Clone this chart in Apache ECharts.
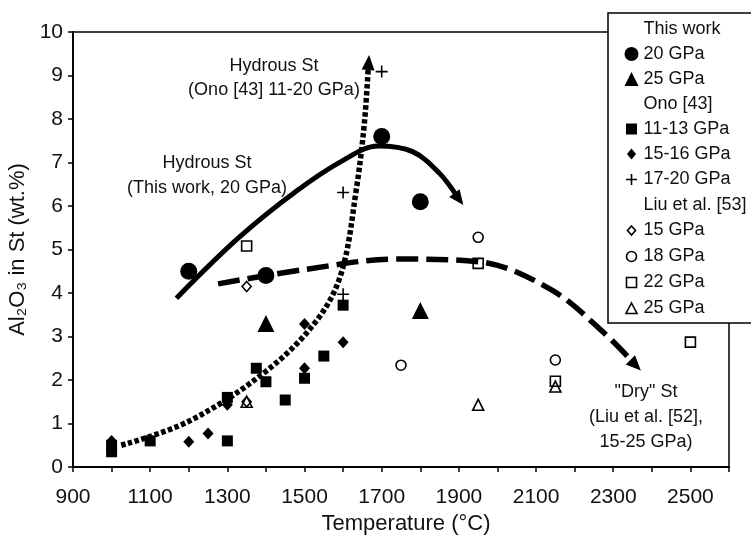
<!DOCTYPE html>
<html>
<head>
<meta charset="utf-8">
<title>Al2O3 in stishovite vs temperature</title>
<script src="https://cdn.jsdelivr.net/npm/echarts@6/dist/echarts.min.js"></script>
<style>
  html, body { margin: 0; padding: 0; background: #fff; }
  #chart { width: 751px; height: 536px; }
</style>
</head>
<body>
<div id="chart"></div>
<script>
// x tick labels (ticks every 100, labels every 200)
var xTickLabels = [900, 1100, 1300, 1500, 1700, 1900, 2100, 2300, 2500];

// This work
var tw20T = [1200, 1400, 1700, 1800];
var tw20A = [4.5, 4.4, 7.6, 6.1];
var tw25T = [1400, 1800];
var tw25A = [3.3, 3.6];

// Ono [43]
var ono1113T = [1000, 1000, 1100, 1300, 1300, 1375, 1400, 1450, 1500, 1550, 1600];
var ono1113A = [0.35, 0.5, 0.6, 0.6, 1.6, 2.27, 1.96, 1.54, 2.04, 2.55, 3.72];
var ono1516T = [1000, 1200, 1250, 1300, 1500, 1500, 1600];
var ono1516A = [0.6, 0.58, 0.77, 1.43, 3.29, 2.27, 2.87];
var ono1720T = [1600, 1600, 1700];
var ono1720A = [3.97, 6.31, 9.09];

// Liu et al. [53]
var liu15T = [1350, 1350];
var liu15A = [4.15, 1.5];
var liu18T = [1750, 1950, 2150];
var liu18A = [2.34, 5.28, 2.46];
var liu22T = [1350, 1950, 2150, 2500];
var liu22A = [5.08, 4.68, 1.97, 2.87];
var liu25T = [1350, 1950, 2150];
var liu25A = [1.5, 1.43, 1.85];

// trend curves (hand drawn in the original), last point = arrow head
var hydThisT = [1168, 1328, 1480, 1600, 1690, 1780, 1850, 1900];
var hydThisA = [3.88, 5.26, 6.35, 7.05, 7.38, 7.25, 6.75, 6.16];
var dryT = [1276, 1500, 1740, 1950, 2140, 2280, 2358];
var dryA = [4.21, 4.54, 4.78, 4.72, 4.07, 3.05, 2.34];
var hydOnoT = [1025, 1200, 1400, 1530, 1595, 1634, 1655, 1666];
var hydOnoA = [0.5, 1.05, 2.2, 3.35, 4.45, 6.37, 7.9, 9.3];

var FONT = '"Liberation Sans", Arial, sans-serif';
var legendText = {
  hTw: 'This work', tw20: '20 GPa', tw25: '25 GPa',
  hOno: 'Ono [43]', ono1113: '11-13 GPa', ono1516: '15-16 GPa', ono1720: '17-20 GPa',
  hLiu: 'Liu et al. [53]', liu15: '15 GPa', liu18: '18 GPa', liu22: '22 GPa', liu25: '25 GPa'
};

var chart = echarts.init(document.getElementById('chart'));

function pts(xs, ys) {
  return xs.map(function (x, i) { return [x, ys[i]]; });
}

function marks(name, xs, ys, symbol, size, filled) {
  return {
    name: name, type: 'scatter', data: pts(xs, ys), symbol: symbol, symbolSize: size, z: 5,
    itemStyle: filled
      ? { color: '#000', opacity: 1 }
      : { color: 'none', borderColor: '#000', borderWidth: 1.6, opacity: 1 }
  };
}

function curve(id, xs, ys, lineType, width) {
  return {
    id: id, type: 'line', data: pts(xs, ys), smooth: 0.35,
    symbol: 'none', showSymbol: true, silent: true, z: 3,
    itemStyle: { color: '#000' },
    lineStyle: { color: '#000', width: width, type: lineType, cap: 'butt' }
  };
}

function header(name) {
  return { name: name, type: 'scatter', data: [] };
}

var series = [
  curve('hydThis', hydThisT, hydThisA, 'solid', 5),
  curve('dry', dryT, dryA, [22, 8], 5.5),
  curve('hydOno', hydOnoT, hydOnoA, [4.5, 2.5], 5.5),
  header('hTw'), header('hOno'), header('hLiu'),
  marks('tw20', tw20T, tw20A, 'circle', 17, true),
  marks('tw25', tw25T, tw25A, 'triangle', 17, true),
  marks('ono1113', ono1113T, ono1113A, 'rect', 11, true),
  marks('ono1516', ono1516T, ono1516A, 'diamond', [11, 12], true),
  marks('ono1720', ono1720T, ono1720A, 'path://M5,0V10M0,5H10', 12, false),
  marks('liu15', liu15T, liu15A, 'diamond', [9, 10], false),
  marks('liu18', liu18T, liu18A, 'circle', 10, false),
  marks('liu22', liu22T, liu22A, 'rect', 10, false),
  marks('liu25', liu25T, liu25A, 'triangle', 11, false)
];

chart.setOption({
  animation: false,
  textStyle: { fontFamily: FONT },
  grid: {
    left: 73, right: 22, top: 32, bottom: 69, outerBoundsMode: 'none', containLabel: false,
    show: true, borderColor: '#000', borderWidth: 1.5
  },
  xAxis: {
    type: 'value', min: 900, max: 2600, interval: 100,
    name: 'Temperature (°C)', nameLocation: 'middle', nameGap: 41,
    nameTextStyle: { fontSize: 22, color: '#111', padding: [0, 0, 0, 10] },
    axisLine: { lineStyle: { color: '#000', width: 1.8 } },
    axisTick: { length: 5, lineStyle: { color: '#000', width: 1.5 } },
    axisLabel: {
      fontSize: 21, color: '#111', margin: 20,
      formatter: function (v) { return xTickLabels.indexOf(v) >= 0 ? String(v) : ''; }
    },
    splitLine: { show: false }
  },
  yAxis: {
    type: 'value', min: 0, max: 10, interval: 1,
    name: 'Al₂O₃ in St (wt.%)', nameLocation: 'middle', nameGap: 42,
    nameTextStyle: { fontSize: 22, color: '#111' },
    axisLine: { show: true, lineStyle: { color: '#000', width: 1.8 } },
    axisTick: { show: true, length: 5, lineStyle: { color: '#000', width: 1.5 } },
    axisLabel: { fontSize: 21, color: '#111', margin: 10 },
    splitLine: { show: false }
  },
  legend: {
    orient: 'vertical', left: 608, top: 13,
    padding: [7, 26, 5, 14],
    itemWidth: 14, itemHeight: 14, itemGap: 7,
    backgroundColor: '#fff', borderColor: '#000', borderWidth: 1.5,
    selectedMode: false,
    itemStyle: { borderWidth: 1.6 },
    textStyle: { fontSize: 18, color: '#111', fontFamily: FONT },
    formatter: function (name) { return legendText[name]; },
    data: [
      { name: 'hTw', icon: 'none' },
      { name: 'tw20', icon: 'circle' },
      { name: 'tw25', icon: 'triangle' },
      { name: 'hOno', icon: 'none' },
      { name: 'ono1113', icon: 'path://M0,0M14,14M1.5,1.5H12.5V12.5H1.5Z' },
      { name: 'ono1516', icon: 'path://M0,0M14,14M7,1.5L11.5,7L7,12.5L2.5,7Z' },
      { name: 'ono1720', icon: 'path://M0,0M14,14M7,1.5V12.5M1.5,7H12.5' },
      { name: 'hLiu', icon: 'none' },
      { name: 'liu15', icon: 'path://M0,0M14,14M7,2.5L11,7L7,11.5L3,7Z' },
      { name: 'liu18', icon: 'path://M0,0M14,14M12,7A5,5,0,1,1,2,7A5,5,0,1,1,12,7Z' },
      { name: 'liu22', icon: 'path://M0,0M14,14M2,2H12V12H2Z' },
      { name: 'liu25', icon: 'path://M0,0M14,14M7,1.5L12.5,12L1.5,12Z' }
    ]
  },
  graphic: [
    {
      type: 'text', x: 274, y: 78, z: 10,
      style: { text: 'Hydrous St\n(Ono [43] 11-20 GPa)', font: '18px ' + FONT, fill: '#111',
        align: 'center', textAlign: 'center', verticalAlign: 'middle', textVerticalAlign: 'middle', lineHeight: 24 }
    },
    {
      type: 'text', x: 207, y: 176, z: 10,
      style: { text: 'Hydrous St\n(This work, 20 GPa)', font: '18px ' + FONT, fill: '#111',
        align: 'center', textAlign: 'center', verticalAlign: 'middle', textVerticalAlign: 'middle', lineHeight: 25 }
    },
    {
      type: 'text', x: 646, y: 417, z: 10,
      style: { text: '"Dry" St\n(Liu et al. [52],\n15-25 GPa)', font: '18px ' + FONT, fill: '#111',
        align: 'center', textAlign: 'center', verticalAlign: 'middle', textVerticalAlign: 'middle', lineHeight: 25 }
    }
  ],
  series: series
});

// arrow heads at the end of the three trend curves
function arrowData(xs, ys) {
  var n = xs.length;
  var a = chart.convertToPixel({ gridIndex: 0 }, [xs[n - 2], ys[n - 2]]);
  var b = chart.convertToPixel({ gridIndex: 0 }, [xs[n - 1], ys[n - 1]]);
  var ang = -Math.atan2(b[0] - a[0], a[1] - b[1]) * 180 / Math.PI;
  var data = pts(xs, ys);
  data[n - 1] = { value: data[n - 1], symbol: 'triangle', symbolSize: [13, 15], symbolRotate: ang };
  return data;
}

chart.setOption({
  series: [
    { id: 'hydThis', data: arrowData(hydThisT, hydThisA) },
    { id: 'dry', data: arrowData(dryT, dryA) },
    { id: 'hydOno', data: arrowData(hydOnoT, hydOnoA) }
  ]
});
</script>
</body>
</html>
